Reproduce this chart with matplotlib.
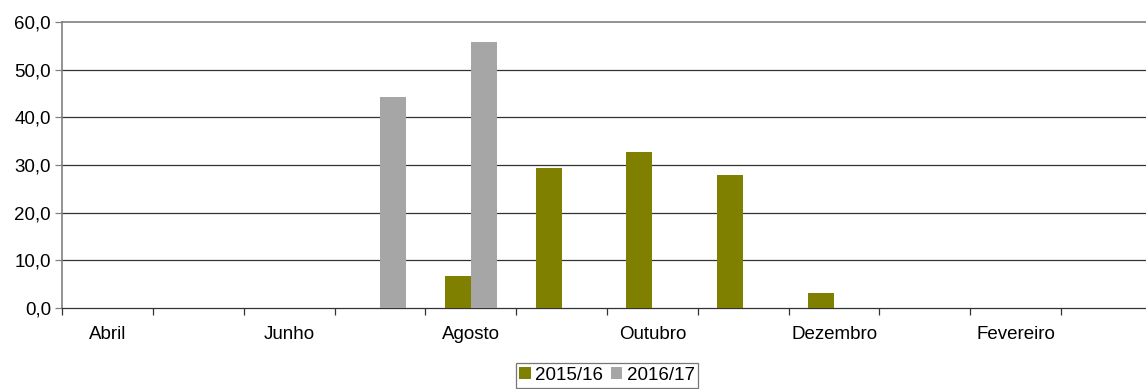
import numpy as np
import matplotlib.pyplot as plt

plt.rcParams['font.family'] = ['Liberation Sans', 'DejaVu Sans']

months = ['Abril', 'Maio', 'Junho', 'Julho', 'Agosto', 'Setembro',
          'Outubro', 'Novembro', 'Dezembro', 'Janeiro', 'Fevereiro', 'Março']
s2015 = [0, 0, 0, 0, 6.8, 29.4, 32.8, 27.8, 3.2, 0, 0, 0]
s2016 = [0, 0, 0, 44.3, 55.8, 0, 0, 0, 0, 0, 0, 0]
yticks = [0, 10, 20, 30, 40, 50, 60]

FS = 13.5

fig = plt.figure(figsize=(11.46, 3.89), dpi=100)
ax = fig.add_axes([62 / 1146, 1 - 308 / 389, 1090 / 1146, 286 / 389])

x = np.arange(len(months))
w = 0.286
ax.bar(x - w / 2, s2015, w, color='#808000', label='2015/16', zorder=3)
ax.bar(x + w / 2, s2016, w, color='#a6a6a6', label='2016/17', zorder=3)

ax.set_xlim(-0.5, len(months) - 0.5)
ax.set_ylim(0, 60)
ax.set_yticks(yticks)
ax.set_yticklabels([f'{v:.1f}'.replace('.', ',') for v in yticks], fontsize=FS)
for v in yticks[1:-1]:
    ax.axhline(v, color='#333333', lw=0.9, zorder=1)

# ticks between categories, labels every other month
ax.set_xticks(np.arange(len(months) + 1) - 0.5)
ax.set_xticklabels([])
ax.set_xticks(x, minor=True)
ax.set_xticklabels([m if i % 2 == 0 else '' for i, m in enumerate(months)],
                   minor=True, fontsize=FS)
ax.tick_params(axis='x', which='major', length=5, width=0.9, color='#333333')
ax.tick_params(axis='x', which='minor', length=0, pad=13)
ax.tick_params(axis='y', length=5, width=0.9, color='#808080', pad=3)

ax.spines['right'].set_visible(False)
ax.spines['top'].set_color('#808080')
ax.spines['top'].set_linewidth(1.2)
ax.spines['left'].set_color('#808080')
ax.spines['left'].set_linewidth(1.2)
ax.spines['bottom'].set_color('#333333')
ax.spines['bottom'].set_linewidth(0.9)

leg = fig.legend(loc='upper center', bbox_to_anchor=(607 / 1146, 1 - 363 / 389), ncol=2,
                 fontsize=FS, frameon=True, fancybox=False, edgecolor='#555555',
                 handlelength=0.6, handleheight=0.6, handletextpad=0.25,
                 columnspacing=0.4, borderpad=0.2, borderaxespad=0)
leg.get_frame().set_linewidth(0.9)

fig.savefig('out.png', dpi=100)
